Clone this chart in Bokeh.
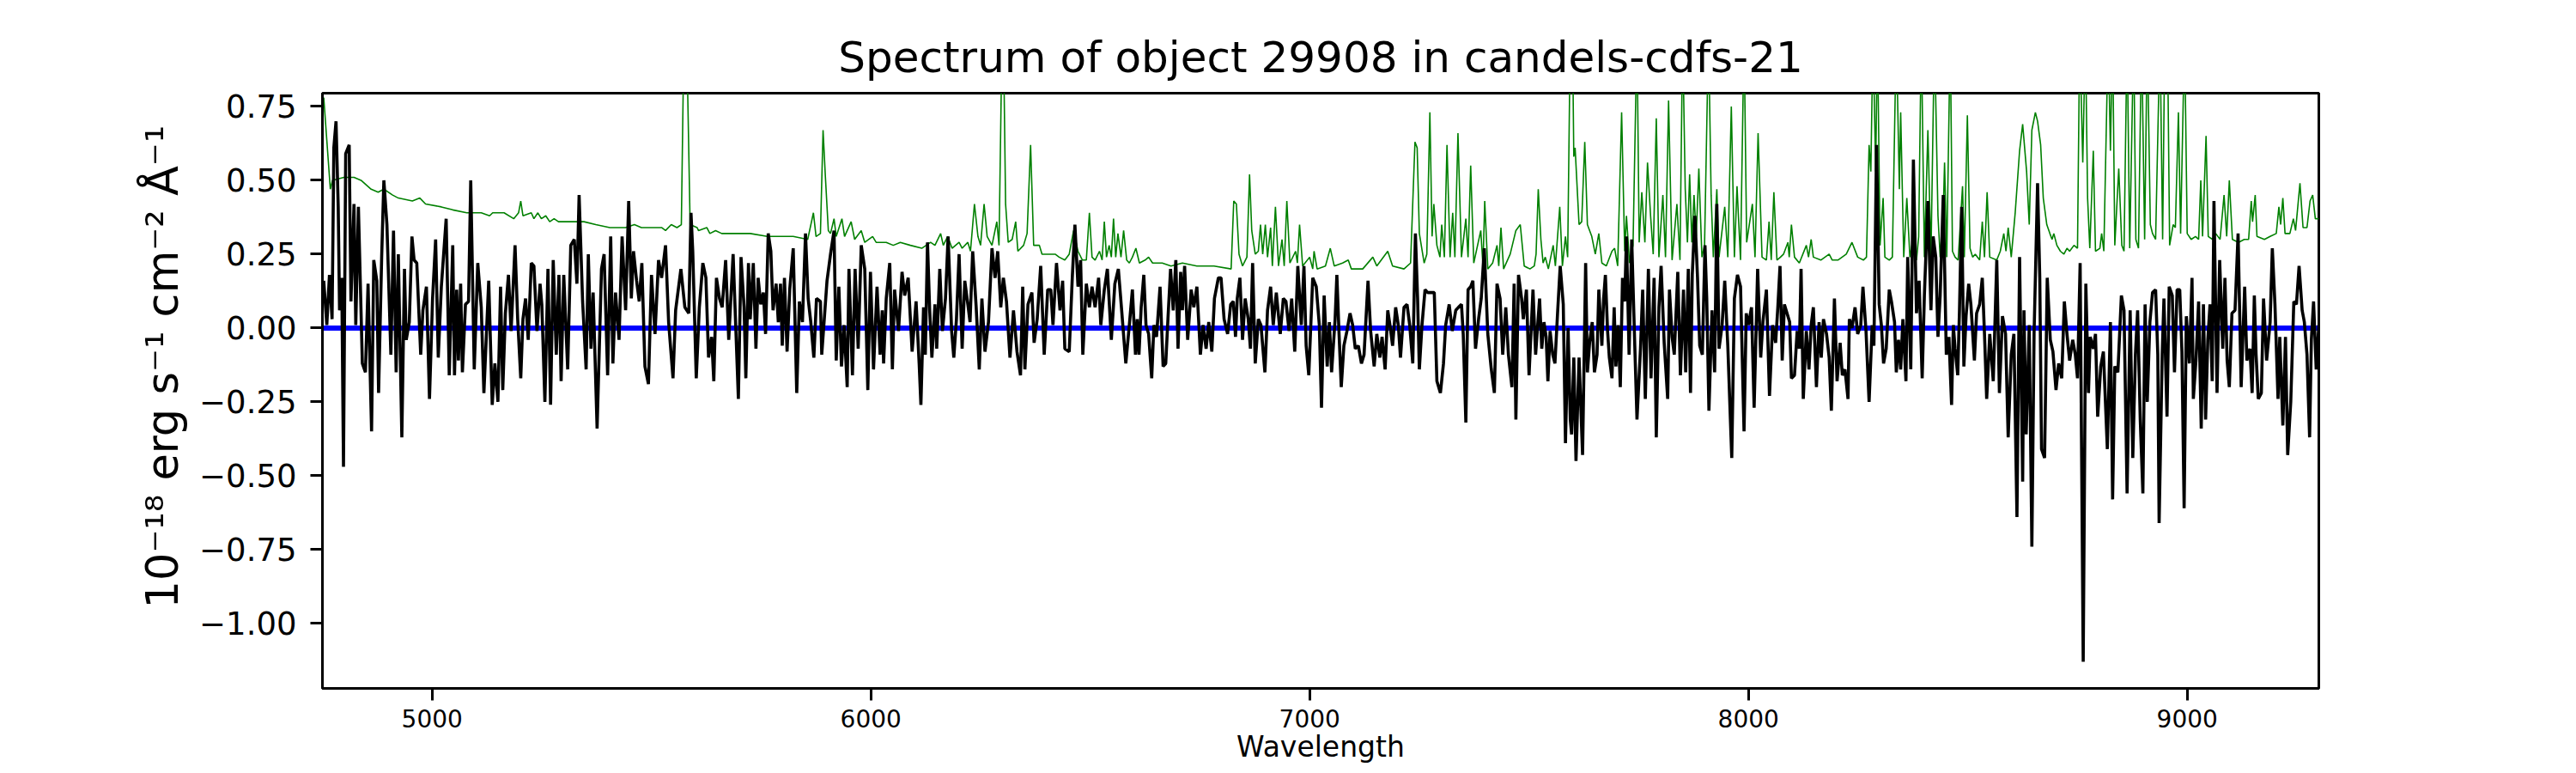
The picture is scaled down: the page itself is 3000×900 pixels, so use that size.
from bokeh.plotting import figure
from bokeh.models import Range1d, FixedTicker, CustomJSTickFormatter, Span, Title
from bokeh.embed import file_html
from bokeh.resources import INLINE

# ---------------- data ----------------
title_text = "Spectrum of object 29908 in candels-cdfs-21"
x_label = "Wavelength"
y_label = "10\u207b\u00b9\u2078 erg s\u207b\u00b9 cm\u207b\u00b2 \u00c5\u207b\u00b9"
x_ticks = [5000, 6000, 7000, 8000, 9000]
y_ticks = [-1.0, -0.75, -0.5, -0.25, 0.0, 0.25, 0.5, 0.75]
x_limits = [4750, 9300]
y_limits = [-1.22, 0.795]
zero_level = 0.0

# observed spectrum (black)
wave = [
    4753,4760,4766,4772,4776,4781,4786,4789,4794,4798,
    4803,4811,4815,4822,4826,4832,4841,4848,4854,4862,
    4867,4874,4878,4885,4890,4897,4906,4912,4918,4923,
    4931,4937,4941,4948,4954,4959,4965,4974,4979,4987,
    4994,5001,5008,5014,5021,5032,5039,5047,5051,5056,
    5060,5065,5069,5076,5083,5088,5096,5104,5112,5118,
    5129,5137,5143,5150,5156,5161,5167,5174,5180,5189,
    5195,5202,5207,5213,5219,5226,5232,5239,5246,5250,
    5257,5264,5270,5276,5283,5289,5294,5300,5309,5316,
    5324,5330,5335,5343,5351,5356,5362,5367,5376,5386,
    5392,5400,5407,5412,5418,5426,5433,5441,5448,5454,
    5459,5466,5472,5478,5485,5493,5500,5508,5516,5523,
    5532,5539,5549,5555,5567,5576,5585,5590,5594,5602,
    5609,5617,5624,5630,5637,5642,5648,5655,5661,5669,
    5676,
    5686,5698,5704,5711,5715,5721,5725,5732,5738,5743,
    5749,5755,5760,5766,5772,5777,5784,5789,5794,5798,
    5803,5809,5815,5823,5831,5837,5844,5851,5857,5863,
    5870,5876,5885,5888,5900,5908,5916,5921,5927,5933,
    5939,5946,5950,5958,5964,5971,5978,5986,5993,5999,
    6006,6014,6021,6026,6029,6035,6043,6049,6054,6063,
    6071,6077,6085,6094,6103,6110,6114,6120,6124,6129,
    6134,6139,6146,6150,6157,6163,6170,6176,6184,6189,
    6195,6201,6208,6214,6221,6226,6232,6240,6247,6253,
    6260,6268,6276,6283,6289,6296,6302,6309,6317,6325,
    6333,6341,6346,6351,6358,6367,6372,6379,6387,6395,
    6403,6410,6415,6423,6431,6437,6442,6452,6459,6465,
    6472,6478,6483,6491,6498,6504,6511,6519,6524,6532,
    6539,6548,6556,6564,6571,6581,6589,6596,
    6603,6607,6611,6616,6622,6627,6633,6640,6645,6651,
    6659,6666,6672,6677,6683,6689,6695,6700,6706,6710,
    6715,6722,6730,6736,6743,6751,6757,6764,6770,6777,
    6783,6792,6798,6805,6813,6820,6826,6831,6835,6841,
    6847,6853,6860,6865,6870,6876,6883,6889,6898,6904,
    6911,6917,6924,6933,6940,6946,6953,6959,6966,6973,
    6981,6987,6992,6998,7007,7015,7022,7027,7033,7040,
    7045,7050,7058,7062,7067,7072,7078,7085,7092,7098,
    7104,7111,7118,7124,7133,7139,7147,7153,7160,7165,
    7172,7178,7183,7189,7196,7202,7207,7215,7222,7228,
    7235,7241,7246,7250,7256,7263,7269,7277,7284,7290,
    7298,7305,7310,7318,7325,7333,7339,7346,7350,7356,
    7361,7367,7372,7378,7385,7391,7398,7406,7414,7421,
    7427,7434,7440,7447,7453,7461,7466,7470,7476,7483,
    7487,7494,7500,7509,7515,
    7524,7529,7534,7539,7543,7548,7554,7559,7565,7571,
    7578,7583,7589,7594,7597,7602,7607,7614,7622,7629,
    7633,7638,7644,7649,7655,7659,7666,7670,7674,7679,
    7683,7689,7694,7698,7703,7708,7713,7718,7722,7728,
    7734,7741,7746,7754,7759,7765,7772,7778,7785,7790,
    7796,7801,7808,7816,7820,7826,7831,7839,7845,7852,
    7857,7863,7868,7872,7878,7884,7889,7895,7901,7905,
    7910,7917,7923,7928,7933,7940,7946,7953,7962,7968,
    7975,7982,7990,7995,8000,8007,8013,8021,8028,8033,
    8041,8048,8055,8062,8067,8072,8077,8082,8088,8094,
    8098,8105,8111,8116,8120,8125,8132,8138,8143,8148,
    8155,8161,8166,8171,8178,8184,8189,8196,8202,8209,
    8214,8220,8227,8230,8236,8243,8249,8256,8261,8268,
    8275,8282,8286,8292,8298,8303,8308,8314,8321,8326,
    8333,8337,8342,8347,8352,8359,8363,8370,8376,8383,
    8389,8396,8401,8409,8416,8421,8427,8432,
    8437,8444,8451,8457,8463,8467,8471,8477,8481,8486,
    8491,8496,8502,8507,8515,8520,8527,8533,8538,8543,
    8550,8558,8566,8572,8579,8586,8592,8599,8605,8612,
    8618,8625,8628,8633,8640,8646,8651,8659,8664,8668,
    8675,8681,8688,8694,8701,8707,8714,8720,8726,8732,
    8739,8745,8750,8756,8763,8769,8775,8779,8786,8791,
    8796,8803,8809,8818,8825,8830,8835,8842,8850,8856,
    8863,8870,8876,8882,8887,8893,8899,8904,8909,8915,
    8921,8928,8933,8936,8943,8947,8954,8959,8966,8971,
    8977,8983,8988,8993,8998,9005,9011,9014,9020,9026,
    9032,9037,9042,9047,9052,9057,9061,9068,9074,9081,
    9086,9091,9096,9102,9109,9116,9123,9131,9136,9143,
    9148,9153,9157,9162,9169,9174,9181,9189,9194,9200,
    9207,9211,9218,9224,9229,9236,9243,9249,9255,9262,
    9267,9273,9279,9283,9288,9294,9300,
]
flux = [
    0.16,0.01,0.18,0.03,0.61,0.70,0.41,0.06,0.17,-0.47,
    0.59,0.62,0.09,0.42,0.01,0.41,-0.12,-0.15,0.15,-0.35,
    0.23,0.16,-0.22,0.24,0.50,0.35,-0.09,0.33,-0.15,0.25,
    -0.37,0.20,-0.04,0.02,0.31,0.23,0.22,-0.09,0.06,0.14,
    -0.24,0.10,0.30,-0.10,0.14,0.37,-0.16,0.28,-0.16,0.13,
    -0.11,0.15,-0.15,0.08,0.09,0.50,-0.14,0.22,0.07,-0.22,
    0.16,-0.26,-0.12,-0.25,0.14,-0.21,0.05,0.18,-0.01,0.28,
    0.03,-0.17,0.03,0.10,-0.04,0.22,0.21,-0.01,0.15,0.08,
    -0.25,0.20,-0.26,0.23,-0.09,0.18,-0.18,0.18,-0.14,0.28,
    0.30,0.15,0.45,0.09,-0.14,0.25,-0.07,0.12,-0.34,0.20,
    0.25,-0.16,0.31,-0.12,0.12,-0.04,0.31,0.06,0.43,0.10,
    0.26,0.16,0.09,0.22,-0.13,-0.19,0.18,-0.02,0.23,0.17,
    0.28,0.02,-0.17,0.06,0.20,0.07,0.05,0.39,0.26,-0.17,
    0.07,0.22,0.17,-0.10,-0.03,-0.18,0.17,0.10,0.07,0.23,
    -0.04,
    0.25,-0.24,0.24,0.07,-0.17,0.22,0.03,0.22,-0.07,0.17,
    0.08,0.12,-0.02,0.32,0.26,0.06,0.15,0.02,0.15,-0.06,
    0.17,-0.08,0.13,0.27,-0.22,0.09,0.02,0.32,0.10,0.02,
    -0.10,0.10,0.09,-0.09,0.16,0.25,0.33,-0.11,0.14,-0.13,
    0.01,-0.20,0.20,-0.16,0.20,-0.07,0.28,0.20,-0.21,0.19,
    -0.14,0.14,-0.09,0.06,-0.12,0.10,0.22,-0.14,0.13,-0.01,
    0.19,0.11,0.17,-0.08,0.09,-0.12,-0.26,0.07,-0.09,0.29,
    0.06,-0.10,0.08,-0.07,0.20,-0.01,0.10,0.31,-0.01,-0.10,
    0.03,0.25,-0.07,0.16,0.08,0.02,0.26,0.07,-0.14,0.10,
    -0.08,0.02,0.27,0.17,0.26,0.07,0.17,0.09,-0.10,0.06,
    -0.08,-0.16,0.14,-0.14,0.08,0.12,-0.05,0.03,0.21,-0.09,
    0.13,0.13,0.01,0.22,0.06,0.16,-0.07,-0.08,0.17,0.35,
    0.14,0.23,-0.09,0.15,0.07,0.14,0.07,0.17,0.01,0.13,
    0.20,-0.04,0.15,0.20,0.07,-0.12,0.01,0.13,
    -0.09,0.03,-0.09,0.07,0.18,0.01,-0.02,-0.17,0.01,-0.03,
    0.14,-0.13,-0.12,0.03,0.20,0.06,0.23,-0.07,0.19,0.06,
    0.21,-0.04,0.13,0.07,0.14,-0.09,0.01,-0.07,0.02,-0.08,
    0.10,0.17,0.17,0.03,-0.02,0.08,0.09,-0.03,0.10,0.17,
    -0.04,0.10,0.03,-0.07,0.22,-0.12,0.03,0.01,-0.15,0.06,
    0.14,0.01,0.12,-0.02,0.10,0.09,-0.01,0.10,-0.08,0.21,
    0.01,0.21,-0.06,-0.16,0.17,0.14,0.01,-0.27,0.11,-0.13,
    0.02,-0.15,0.03,0.18,-0.02,-0.20,-0.06,-0.01,0.05,0.01,
    -0.07,-0.06,-0.12,-0.09,0.16,-0.01,-0.13,-0.02,-0.10,-0.03,
    -0.14,0.06,0.01,-0.06,0.07,0.01,-0.10,0.07,0.08,0.01,
    -0.12,0.32,0.10,-0.14,0.01,0.13,0.12,0.12,0.12,-0.18,
    -0.22,-0.12,0.01,0.08,-0.01,0.06,0.07,0.08,-0.02,-0.32,
    0.13,0.14,0.16,-0.07,0.03,0.10,0.27,-0.02,-0.14,-0.22,
    0.15,0.10,-0.09,0.07,-0.09,-0.20,0.15,-0.31,0.18,0.10,
    0.03,0.13,-0.16,0.13,-0.09,
    0.10,-0.07,0.02,-0.03,-0.18,-0.01,-0.09,-0.12,0.05,0.21,
    0.08,-0.39,0.00,-0.31,-0.36,-0.10,-0.45,-0.10,-0.43,0.22,
    -0.15,-0.05,0.02,-0.15,-0.09,0.13,-0.06,0.10,0.18,-0.01,
    -0.10,-0.17,0.07,-0.13,0.01,-0.20,0.17,0.09,0.31,-0.09,
    0.30,-0.06,-0.31,-0.07,0.13,-0.24,0.20,-0.17,0.17,-0.37,
    0.07,0.21,-0.05,-0.24,0.13,-0.03,-0.09,0.19,-0.16,0.13,
    -0.15,0.20,-0.22,0.18,0.38,0.17,-0.06,-0.09,0.28,0.10,
    -0.28,0.06,-0.15,0.42,-0.07,0.01,0.16,-0.06,-0.44,0.10,
    0.18,0.14,-0.35,0.05,0.01,0.07,-0.27,0.20,-0.10,0.02,
    0.13,-0.23,0.01,-0.05,0.07,0.21,-0.11,0.08,0.05,0.02,
    -0.17,-0.16,-0.01,-0.07,0.20,-0.24,-0.01,-0.14,0.01,0.07,
    -0.20,0.02,-0.10,0.03,-0.02,-0.10,-0.28,0.10,-0.18,-0.05,
    -0.16,-0.14,-0.24,0.03,0.00,0.07,-0.02,0.01,0.14,-0.01,
    -0.25,0.01,-0.06,0.62,0.08,0.01,-0.12,-0.07,0.13,0.09,
    0.02,-0.15,-0.04,-0.14,0.03,-0.18,0.24,-0.14,0.57,0.05,
    0.16,-0.17,0.11,0.43,0.06,0.31,0.24,-0.03,
    0.11,0.45,-0.09,-0.03,-0.26,0.01,-0.07,-0.16,0.06,0.41,
    -0.13,0.04,0.15,0.08,-0.11,0.05,0.08,0.17,-0.02,-0.24,
    -0.02,-0.18,0.23,-0.22,0.04,-0.02,-0.37,-0.09,-0.02,-0.64,
    0.24,-0.52,0.06,-0.36,0.01,-0.74,-0.02,0.49,0.17,-0.41,
    -0.44,0.17,-0.04,-0.08,-0.21,-0.12,-0.17,0.09,-0.02,-0.11,
    -0.04,-0.09,-0.17,0.22,-1.13,0.15,-0.22,-0.03,-0.07,-0.02,
    -0.30,-0.13,-0.08,-0.41,0.02,-0.58,-0.13,-0.15,0.11,0.06,
    -0.56,0.06,-0.44,-0.09,0.06,-0.31,-0.56,0.08,-0.25,0.02,
    0.12,0.13,-0.09,-0.66,-0.09,0.10,-0.30,0.14,0.11,-0.15,
    0.13,0.13,-0.08,-0.61,0.04,-0.12,0.17,-0.24,-0.11,0.09,
    -0.34,0.08,-0.31,-0.04,0.08,-0.18,0.43,-0.22,0.23,-0.07,
    0.17,-0.11,-0.20,0.05,0.06,0.32,-0.20,0.14,-0.11,-0.07,
    -0.22,0.11,-0.09,-0.24,-0.22,0.10,-0.11,0.02,0.27,0.08,
    -0.24,-0.03,-0.33,-0.03,-0.43,-0.25,0.09,0.08,0.21,0.06,
    0.02,-0.09,-0.37,-0.04,0.09,-0.14,0.01,
]

# sky / noise spectrum (green)
sky_wave = [
    4753,4768,4773,4799,4822,4838,4861,4877,4890,4910,
    4923,4955,4972,4985,5021,5047,5079,5112,5131,5138,
    5164,5186,5197,5202,5207,5226,5232,5241,5249,5259,
    5268,5278,5288,5307,5330,5346,5373,5405,5441,5461,
    5477,5523,5532,5545,5558,5568,5574,5580,5588,5604,
    5607,5626,5633,5646,5660,
    5693,5725,5764,5790,5823,5856,5869,5875,5885,5891,
    5896,5903,5908,5916,5921,5934,5940,5955,5963,5978,
    5986,6004,6012,6035,6051,6067,6090,6116,6136,6146,
    6159,6165,6175,6185,6201,6208,6221,6227,6236,6244,
    6250,6258,6265,6276,6287,6292,6299,6302,6307,6313,
    6322,6330,6335,6348,6356,6364,6371,6384,6390,6407,
    6420,6429,6442,6452,6462,6472,6482,6491,6498,6504,
    6511,6521,6527,6532,6537,6543,6548,6553,6558,6563,
    6570,6576,6583,6589,
    6596,6604,6612,6625,6633,6642,6664,6684,6710,6743,
    6782,6821,6827,6833,6839,6847,6857,6863,6868,6876,
    6883,6888,6893,6899,6904,6911,6915,6922,6929,6937,
    6942,6948,6955,6968,6972,6977,6984,7000,7007,7010,
    7017,7036,7047,7056,7075,7088,7095,7121,7144,7153,
    7178,7189,7215,7230,7240,7245,7250,7261,7267,7274,
    7279,7283,7290,7297,7301,7307,7313,7320,7326,7331,
    7338,7346,7356,7361,7367,7374,7390,7395,7399,7406,
    7417,7427,7431,7436,7442,7457,7470,7480,7489,7502,
    7512,
    7516,7521,7527,7532,7537,7544,7555,7560,7570,7576,
    7583,7588,7594,7599,7602,7605,7614,7620,7627,7633,
    7643,7651,7659,7666,7676,7689,7695,7702,7711,7718,
    7722,7729,7737,7746,7751,7757,7764,7770,7777,7783,
    7790,7796,7805,7811,7818,7826,7837,7844,7850,7856,
    7861,7866,7871,7876,7881,7887,7894,7900,7909,7915,
    7920,7928,7933,7946,7953,7961,7968,7974,7982,7990,
    7996,8009,8015,8022,8031,8041,8047,8052,8058,8065,
    8073,8080,8090,8093,8098,8105,8116,8132,8137,8143,
    8148,8165,8184,8191,8204,8223,8236,8249,8262,8269,
    8275,8279,8284,8290,8294,8300,8307,8311,8321,8328,
    8337,8344,8347,8354,8361,8368,8376,8383,8388,8394,
    8401,8409,8416,8424,8432,
    8437,8444,8447,8452,8460,8465,8471,8478,8488,8492,
    8499,8505,8511,8517,8527,8533,8538,8544,8550,8566,
    8574,8582,8587,8592,8599,8608,8618,8625,8634,8640,
    8646,8654,8659,8666,8672,8680,8687,8692,8696,8703,
    8711,8719,8726,8732,8742,8750,8755,8762,8768,8773,
    8778,8786,8791,8801,8805,8810,8820,8825,8830,8835,
    8844,8851,8856,8863,8869,8878,8883,8889,8896,8903,
    8909,8916,8921,8928,8938,8944,8949,8955,8960,8968,
    8973,8980,8985,8994,9000,9009,9019,9026,9031,9035,
    9043,9048,9058,9065,9075,9084,9090,9096,9103,9117,
    9130,9140,9146,9149,9155,9159,9176,9189,9203,9209,
    9213,9218,9223,9234,9242,9247,9257,9264,9273,9280,
    9286,9292,9300,
]
sky_flux = [
    0.78,0.47,0.50,0.51,0.51,0.50,0.47,0.46,0.47,0.45,
    0.44,0.43,0.44,0.42,0.41,0.40,0.39,0.39,0.38,0.39,
    0.39,0.37,0.39,0.43,0.38,0.39,0.37,0.39,0.37,0.38,
    0.36,0.37,0.36,0.36,0.36,0.36,0.35,0.34,0.34,0.35,
    0.34,0.34,0.33,0.35,0.34,0.35,1.00,1.00,0.35,0.34,
    0.33,0.34,0.32,0.33,0.32,
    0.32,0.32,0.31,0.31,0.31,0.30,0.39,0.31,0.32,0.67,
    0.52,0.33,0.32,0.37,0.31,0.37,0.31,0.36,0.30,0.33,
    0.29,0.31,0.29,0.29,0.28,0.29,0.28,0.27,0.29,0.28,
    0.32,0.28,0.31,0.27,0.29,0.27,0.29,0.26,0.42,0.31,
    0.28,0.42,0.31,0.28,0.36,0.28,1.00,1.00,0.42,0.29,
    0.30,0.36,0.26,0.28,0.32,0.62,0.28,0.28,0.25,0.25,
    0.25,0.24,0.23,0.25,0.33,0.26,0.23,0.23,0.39,0.24,
    0.23,0.26,0.23,0.36,0.24,0.28,0.24,0.37,0.24,0.32,
    0.24,0.33,0.23,0.22,
    0.24,0.27,0.22,0.23,0.24,0.22,0.22,0.21,0.22,0.21,
    0.21,0.20,0.43,0.42,0.25,0.21,0.24,0.52,0.33,0.25,
    0.26,0.35,0.25,0.35,0.24,0.34,0.21,0.41,0.21,0.30,
    0.21,0.43,0.22,0.26,0.22,0.35,0.21,0.24,0.20,0.26,
    0.20,0.21,0.27,0.21,0.22,0.23,0.20,0.20,0.24,0.21,
    0.26,0.21,0.20,0.22,0.63,0.61,0.32,0.22,0.25,0.73,
    0.31,0.42,0.28,0.24,0.35,0.24,0.62,0.24,0.39,0.24,
    0.66,0.24,0.37,0.24,0.55,0.22,0.33,0.21,0.43,0.20,
    0.22,0.28,0.21,0.34,0.20,0.25,0.33,0.35,0.21,0.20,
    0.21,
    0.25,0.47,0.30,0.22,0.24,0.20,0.28,0.21,0.41,0.21,
    0.31,0.24,1.00,1.00,0.58,0.61,0.35,0.36,0.63,0.35,
    0.31,0.25,0.32,0.22,0.21,0.26,0.27,0.21,0.73,0.26,
    0.38,0.22,0.28,1.00,0.29,0.46,0.29,0.56,0.38,0.25,
    0.71,0.24,0.45,0.24,0.77,0.23,0.42,0.23,1.00,0.47,
    0.29,0.52,0.29,0.45,0.31,0.54,0.24,0.28,1.00,0.45,
    0.24,0.47,0.24,0.41,0.24,0.75,0.24,0.48,0.23,1.00,
    0.29,0.42,0.24,0.66,0.24,0.23,0.36,0.23,0.46,0.23,
    0.24,0.25,0.29,0.24,0.35,0.24,0.22,0.28,0.24,0.30,
    0.24,0.23,0.25,0.23,0.23,0.25,0.29,0.24,0.23,0.24,
    0.62,0.53,1.00,0.53,1.00,0.28,0.44,0.24,0.23,0.24,
    1.00,0.47,0.73,0.24,0.44,0.24,0.31,0.23,0.31,1.00,
    0.24,0.67,0.24,1.00,0.38,
    0.24,0.39,0.56,0.24,1.00,0.26,0.24,0.23,0.48,0.24,
    0.72,0.27,0.24,0.25,0.23,0.36,0.24,0.46,0.24,0.23,
    0.26,0.32,0.26,0.34,0.24,0.39,0.60,0.69,0.53,0.35,
    0.67,0.73,0.70,0.62,0.44,0.35,0.32,0.30,0.32,0.28,
    0.26,0.25,0.27,0.26,0.28,0.27,1.00,0.56,1.00,0.44,
    0.27,0.60,0.26,0.27,0.32,0.26,1.00,0.60,1.00,0.28,
    0.54,0.28,0.26,1.00,0.27,1.00,0.30,0.27,1.00,0.30,
    1.00,0.35,0.32,0.30,1.00,0.30,1.00,1.00,0.28,0.35,
    0.34,0.73,0.32,1.00,0.32,0.30,0.31,0.30,0.50,0.31,
    0.65,0.31,0.30,0.32,0.30,0.45,0.31,0.50,0.30,0.29,
    0.30,0.30,0.43,0.36,0.45,0.31,0.30,0.31,0.32,0.41,
    0.35,0.44,0.32,0.32,0.37,0.33,0.49,0.34,0.34,0.43,
    0.45,0.37,0.37,
]

# ---------------- figure ----------------
FONT = "DejaVu Sans"

p = figure(
    width=2984, height=892,
    x_range=Range1d(x_limits[0], x_limits[1]),
    y_range=Range1d(y_limits[0], y_limits[1]),
    output_backend="svg", toolbar_location=None,
    min_border_left=375, min_border_right=284,
    min_border_top=108, min_border_bottom=91,
    background_fill_color="white", border_fill_color="white",
)

p.title = Title(text=title_text, align="center", text_font=FONT,
                text_font_size="50px", text_font_style="normal",
                text_color="black", standoff=26)

p.xgrid.visible = False
p.ygrid.visible = False
p.outline_line_color = "black"
p.outline_line_width = 3
p.outline_line_alpha = 1.0

for ax in (p.xaxis[0], p.yaxis[0]):
    ax.axis_line_color = "black"
    ax.axis_line_width = 3
    ax.major_tick_line_color = "black"
    ax.major_tick_line_width = 3
    ax.major_tick_out = 14
    ax.major_tick_in = 0
    ax.minor_tick_out = 0
    ax.minor_tick_in = 0
    ax.major_label_text_font = FONT
    ax.major_label_text_color = "black"
    ax.axis_label_text_font = FONT
    ax.axis_label_text_font_style = "normal"
    ax.axis_label_text_color = "black"

p.xaxis.ticker = FixedTicker(ticks=x_ticks)
p.xaxis.major_label_text_font_size = "28px"
p.xaxis.major_label_standoff = 10
p.xaxis.axis_label = x_label
p.xaxis.axis_label_text_font_size = "33px"
p.xaxis.axis_label_standoff = 0

p.yaxis.ticker = FixedTicker(ticks=y_ticks)
p.yaxis.formatter = CustomJSTickFormatter(
    code="return (tick < 0 ? '\u2212' : '') + Math.abs(tick).toFixed(2);")
p.yaxis.major_label_text_font_size = "37px"
p.yaxis.major_label_standoff = 16

# y-axis title, sitting a little above the axis centre like the reference
p.add_layout(Title(text=y_label, align="left", offset=93, standoff=21,
                   text_font=FONT, text_font_size="51px",
                   text_font_style="normal", text_color="black"), "left")

p.line(sky_wave, sky_flux, line_color="green", line_width=1.6)
p.add_layout(Span(location=zero_level, dimension="width", line_color="blue",
                  line_width=6, level="underlay"))
p.line(wave, flux, line_color="black", line_width=3.6)

open("out.html", "w").write(file_html(p, INLINE))
